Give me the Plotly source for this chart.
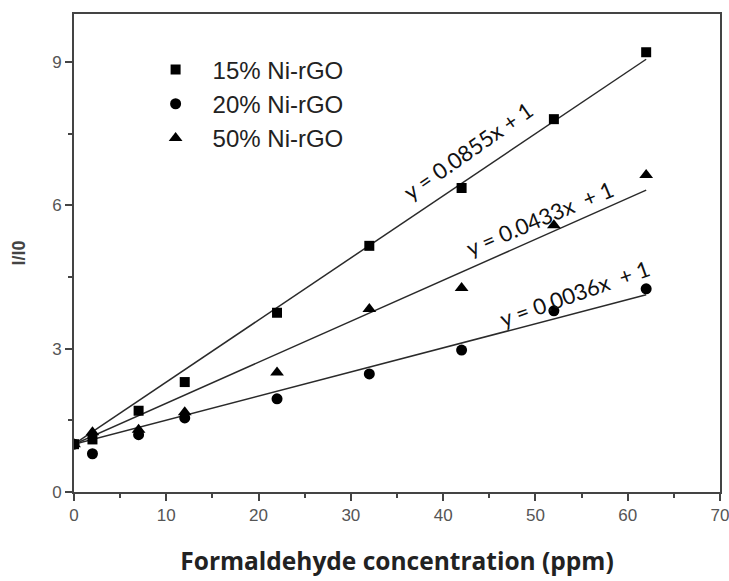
import numpy as np
import plotly.graph_objects as go

# Formaldehyde concentration (ppm)
conc = [0, 2, 7, 12, 22, 32, 42, 52, 62]

# Relative response I/I0 for each composite
ni15 = [1.0, 1.1, 1.7, 2.3, 3.75, 5.15, 6.36, 7.8, 9.2]
ni20 = [1.0, 0.8, 1.2, 1.55, 1.95, 2.47, 2.97, 3.79, 4.25]
ni50 = [1.0, 1.25, 1.3, 1.67, 2.5, 3.83, 4.27, 5.58, 6.63]

names = ["15% Ni-rGO", "20% Ni-rGO", "50% Ni-rGO"]
symbols = ["square", "circle", "triangle-up"]
sizes = [10, 11, 12]

# Fit equation texts and their placement along the lines
eq_text = ["y = 0.0855x + 1", "y = 0.0433x  + 1", "y = 0.0036x  + 1"]
eq_x = [42.7, 50.4, 54.2]
eq_y = [7.15, 5.73, 4.16]
eq_angle = [-35, -23, -19.5]

x = np.array(conc, dtype=float)
fig = go.Figure()

# Linear fits with the intercept fixed at 1 (I/I0 = 1 at zero concentration)
for ys in (ni15, ni20, ni50):
    y = np.array(ys, dtype=float)
    slope = np.sum(x * (y - 1)) / np.sum(x * x)
    xf = np.array([x.min(), x.max()])
    fig.add_trace(go.Scatter(
        x=xf, y=1 + slope * xf, mode="lines",
        line=dict(color="#2a2a2a", width=1.5),
        showlegend=False, hoverinfo="skip"))

for ys, nm, sym, sz in zip((ni15, ni20, ni50), names, symbols, sizes):
    fig.add_trace(go.Scatter(
        x=conc, y=ys, mode="markers", name=nm,
        marker=dict(symbol=sym, size=sz, color="black")))

for t, ex, ey, ang in zip(eq_text, eq_x, eq_y, eq_angle):
    fig.add_annotation(
        x=ex, y=ey, xref="x", yref="y", text=t, showarrow=False,
        textangle=ang, font=dict(family="Lato", size=22, color="#111"))

axis_common = dict(
    showline=True, linecolor="#444", linewidth=2, mirror=True,
    showgrid=False, zeroline=False, ticks="outside", ticklen=7,
    tickwidth=1.5, tickcolor="#444", automargin=False,
    ticklabeloverflow="allow",
    tickfont=dict(family="Liberation Sans", size=17, color="#555"),
)

fig.update_xaxes(
    range=[0, 70], dtick=10, tick0=0,
    minor=dict(dtick=5, ticks="outside", ticklen=4, tickcolor="#444", tickwidth=1.5),
    title=dict(text="<b>Formaldehyde concentration (ppm)</b>",
               font=dict(family="Open Sans", size=24.5, color="#222"), standoff=28),
    **axis_common)
fig.update_yaxes(
    range=[0, 10], dtick=3, tick0=0,
    minor=dict(dtick=1.5, ticks="outside", ticklen=4, tickcolor="#444", tickwidth=1.5),
    title=dict(text="<b>I/I0</b>",
               font=dict(family="Liberation Sans", size=18, color="#444"), standoff=22),
    **axis_common)

fig.update_layout(
    width=729, height=581,
    margin=dict(l=74, r=9, t=14, b=89),
    paper_bgcolor="white", plot_bgcolor="white",
    legend=dict(x=0.1, y=0.93, xanchor="left", yanchor="top",
                bgcolor="rgba(0,0,0,0)", itemwidth=64,
                font=dict(family="Liberation Sans", size=24, color="#222"),
                tracegroupgap=0, itemsizing="trace"),
)

fig.write_html("out.html")
